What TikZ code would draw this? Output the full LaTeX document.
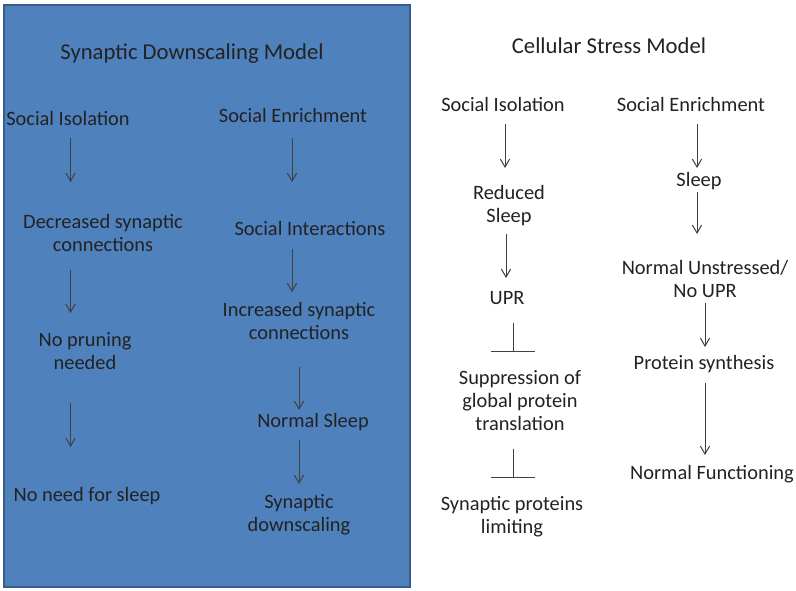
\documentclass[tikz,border=0pt]{standalone}
\usepackage{fontspec}
\setmainfont{Carlito}
\usetikzlibrary{arrows.meta}
\definecolor{panelblue}{HTML}{4F81BD}
\definecolor{paneledge}{HTML}{385D8A}
\definecolor{ink}{HTML}{222222}
\definecolor{linegray}{HTML}{404040}
\begin{document}
\begin{tikzpicture}[x=0.75pt,y=-0.75pt,
  lbl/.style={inner sep=0pt,align=center,text=ink,font=\fontsize{15.3}{17.25}\selectfont,
    execute at begin node={\rule{0pt}{0.75em}},execute at end node={\rule[-0.25em]{0pt}{0pt}}},
  ttl/.style={inner sep=0pt,align=center,text=ink,font=\fontsize{17}{20}\selectfont,
    execute at begin node={\rule{0pt}{0.75em}},execute at end node={\rule[-0.25em]{0pt}{0pt}}},
  sh/.style 2 args={shorten <=#1*0.75pt,shorten >=#2*0.75pt},
  arr/.style={draw=linegray,line width=0.75pt,-{Straight Barb[length=6pt,width=7pt]}},
  inh/.style={draw=linegray,line width=0.75pt,-{Bar[width=33pt,line width=0.75pt]}}]
\useasboundingbox (0,0) rectangle (796,591);
\fill[white] (0,0) rectangle (796,591);
\draw[fill=panelblue,draw=paneledge,line width=1.2pt] (4,5) rectangle (410,587);
% left panel
\node[ttl] (t1) at (192,54.3) {Synaptic Downscaling Model};
\node[lbl] (siL) at (68,120) {Social Isolation};
\node[lbl] (seL) at (293,117.5) {Social Enrichment};
\node[lbl] (dec) at (103,235) {Decreased synaptic\\connections};
\node[lbl] (sint) at (310,230.5) {Social Interactions};
\node[lbl] (nop) at (85,354) {No pruning\\needed};
\node[lbl] (inc) at (299,323.5) {Increased synaptic\\connections};
\node[lbl] (nsl) at (313,422.5) {Normal Sleep};
\node[lbl] (nns) at (87,496.5) {No need for sleep};
\node[lbl] (sds) at (299,515) {Synaptic\\downscaling};
\coordinate (xa) at (70.5,0);
\coordinate (xb) at (292,0);
\coordinate (xc) at (299,0);
\draw[arr,sh={18}{53}] (siL.center -| xa) -- (dec.center -| xa);
\draw[arr,sh={20.5}{48.5}] (seL.center -| xb) -- (sint.center -| xb);
\draw[arr,sh={35}{41}] (dec.center -| xa) -- (nop.center -| xa);
\draw[arr,sh={18.5}{31.5}] (sint.center -| xb) -- (inc.center -| xb);
\draw[arr,sh={49}{49.5}] (nop.center -| xa) -- (nns.center -| xa);
\draw[arr,sh={43.5}{12.5}] (inc.center -| xc) -- (nsl.center -| xc);
\draw[arr,sh={17.5}{31}] (nsl.center -| xc) -- (sds.center -| xc);
% right side
\node[ttl] (t2) at (609,48.3) {Cellular Stress Model};
\node[lbl] (siR) at (503,106.5) {Social Isolation};
\node[lbl] (seR) at (691,106.5) {Social Enrichment};
\node[lbl] (rs) at (509,206) {Reduced\\Sleep};
\node[lbl] (slR) at (699,181.5) {Sleep};
\node[lbl] (upr) at (507,299.5) {UPR};
\node[lbl] (nu) at (705,281) {Normal Unstressed/\\No UPR};
\node[lbl] (sup) at (520,403.5) {Suppression of\\global protein\\translation};
\node[lbl] (ps) at (704,364.5) {Protein synthesis};
\node[lbl] (nf) at (712,474.5) {Normal Functioning};
\node[lbl] (spl) at (512,517) {Synaptic proteins\\limiting};
\coordinate (xd) at (505,0);
\coordinate (xd2) at (506,0);
\coordinate (xe) at (697,0);
\coordinate (xf) at (705,0);
\coordinate (xg) at (513,0);
\draw[arr,sh={17.5}{38}] (siR.center -| xd) -- (rs.center -| xd);
\draw[arr,sh={17.5}{13.5}] (seR.center -| xe) -- (slR.center -| xe);
\draw[arr,sh={28}{21.5}] (rs.center -| xd2) -- (upr.center -| xd2);
\draw[arr,sh={10.5}{47}] (slR.center -| xe) -- (nu.center -| xe);
\draw[arr,sh={22}{17.5}] (nu.center -| xf) -- (ps.center -| xf);
\draw[arr,sh={18.5}{19.5}] (ps.center -| xf) -- (nf.center -| xf);
\draw[inh,sh={24}{51}] (upr.center -| xg) -- (sup.center -| xg);
\draw[inh,sh={45}{39}] (sup.center -| xg) -- (spl.center -| xg);
\end{tikzpicture}
\end{document}
